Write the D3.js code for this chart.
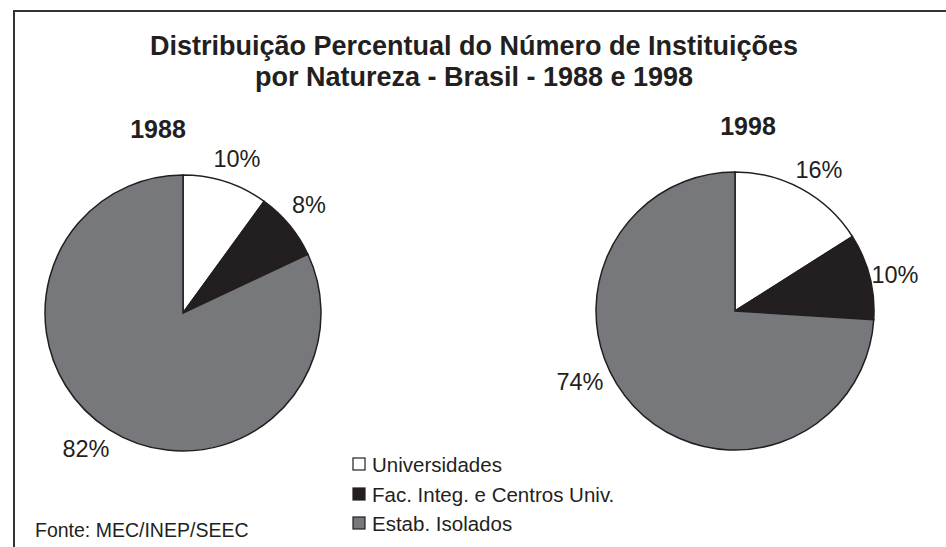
<!DOCTYPE html>
<html>
<head>
<meta charset="utf-8">
<script src="https://cdn.jsdelivr.net/npm/d3@7"></script>
<style>
  body { margin: 0; background: #fff; }
  svg { display: block; font-family: "Liberation Sans", Arial, sans-serif; }
</style>
</head>
<body>
<div id="chart"></div>
<script>
// data
const categories = ["Universidades", "Fac. Integ. e Centros Univ.", "Estab. Isolados"];
const years = ["1988", "1998"];
const values1988 = [10, 8, 82];
const values1998 = [16, 10, 74];
const titleLines = ["Distribuição Percentual do Número de Instituições", "por Natureza - Brasil - 1988 e 1998"];
const sourceText = "Fonte: MEC/INEP/SEEC";

const width = 946, height = 547;
const colors = d3.scaleOrdinal().domain(categories).range(["#ffffff", "#231f20", "#77787b"]);

const svg = d3.select("#chart").append("svg")
    .attr("width", width)
    .attr("height", height);

// frame (only top and left edges visible)
svg.append("path")
    .attr("d", `M14,${height} L14,11 L${width},11`)
    .attr("fill", "none")
    .attr("stroke", "#333")
    .attr("stroke-width", 2);

// title
svg.selectAll("text.title")
    .data(titleLines)
    .enter().append("text")
    .attr("class", "title")
    .attr("x", 474)
    .attr("y", (d, i) => 55 + i * 31)
    .attr("text-anchor", "middle")
    .style("font-size", "27px")
    .style("font-weight", "bold")
    .attr("fill", "#231f20")
    .text(d => d);

const pie = d3.pie().sort(null).value(d => d);
const arc = d3.arc().innerRadius(0);

// per-pie layout
const pies = [
    { year: years[0], values: values1988, cx: 183, cy: 313, r: 138, yearX: 158, yearY: 138,
      labelPos: [[237, 167], [309, 213], [86, 457]] },
    { year: years[1], values: values1998, cx: 735, cy: 311, r: 139, yearX: 748, yearY: 135,
      labelPos: [[819, 178], [895, 283], [580, 390]] }
];

pies.forEach(p => {
    const g = svg.append("g").attr("transform", `translate(${p.cx},${p.cy})`);
    arc.outerRadius(p.r);
    g.selectAll("path")
        .data(pie(p.values))
        .enter().append("path")
        .attr("d", arc)
        .attr("fill", (d, i) => colors(categories[i]))
        .attr("stroke", "#231f20")
        .attr("stroke-width", 1.5);

    svg.append("text")
        .attr("x", p.yearX)
        .attr("y", p.yearY)
        .attr("text-anchor", "middle")
        .style("font-size", "25px")
        .style("font-weight", "bold")
        .attr("fill", "#231f20")
        .text(p.year);

    svg.selectAll(null)
        .data(p.values)
        .enter().append("text")
        .attr("x", (d, i) => p.labelPos[i][0])
        .attr("y", (d, i) => p.labelPos[i][1])
        .attr("text-anchor", "middle")
        .style("font-size", "23.5px")
        .attr("fill", "#231f20")
        .text(d => d + "%");
});

// legend
const legend = svg.append("g").attr("transform", "translate(353,0)");
const legendY = [472, 502, 531];
legend.selectAll("rect")
    .data(categories)
    .enter().append("rect")
    .attr("x", 0)
    .attr("y", (d, i) => legendY[i] - 14)
    .attr("width", 12)
    .attr("height", 12)
    .attr("fill", d => colors(d))
    .attr("stroke", "#231f20")
    .attr("stroke-width", 1.2);
legend.selectAll("text")
    .data(categories)
    .enter().append("text")
    .attr("x", 19)
    .attr("y", (d, i) => legendY[i])
    .style("font-size", "20.5px")
    .attr("fill", "#231f20")
    .text(d => d);

// source
svg.append("text")
    .attr("x", 35)
    .attr("y", 537)
    .style("font-size", "19.5px")
    .attr("fill", "#231f20")
    .text(sourceText);
</script>
</body>
</html>
